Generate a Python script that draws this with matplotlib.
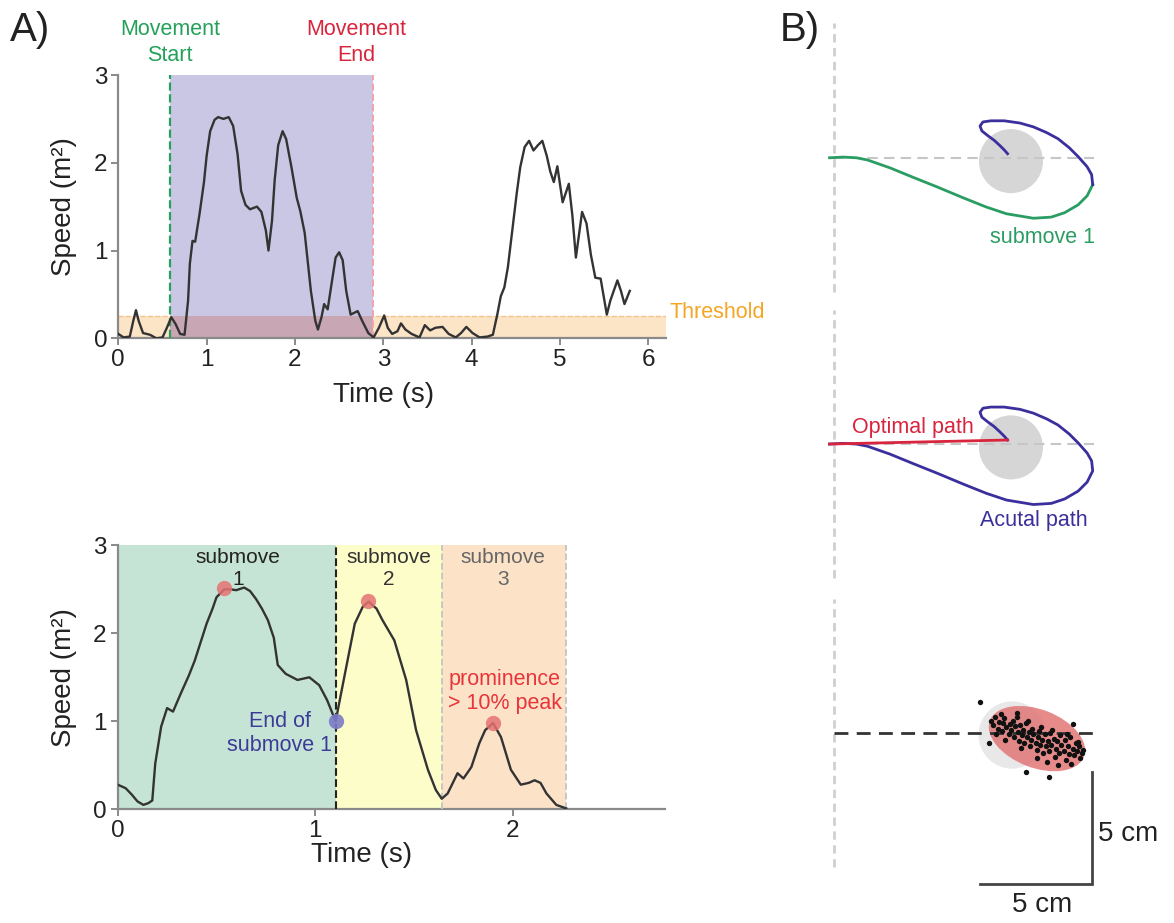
import matplotlib
matplotlib.use("Agg")
import matplotlib.pyplot as plt
from matplotlib.patches import Circle, Ellipse

plt.rcParams['font.family'] = ['Liberation Sans', 'DejaVu Sans']

# ---------------- data: panel A (top) ----------------
top_t = [0.0, 0.06, 0.13, 0.17, 0.2, 0.23, 0.28, 0.36, 0.43, 0.5, 0.55, 0.6, 0.65, 0.7, 0.75,
         0.79, 0.81, 0.84, 0.87, 0.92, 0.97, 1.0, 1.04, 1.09, 1.13, 1.19, 1.25, 1.3, 1.35, 1.39,
         1.44, 1.49, 1.57, 1.62, 1.67, 1.7, 1.74, 1.77, 1.81, 1.86, 1.9, 1.96, 2.02, 2.06, 2.11,
         2.18, 2.23, 2.26, 2.3, 2.33, 2.37, 2.42, 2.46, 2.5, 2.54, 2.58, 2.63, 2.67, 2.71, 2.76,
         2.83, 2.89, 2.95, 3.01, 3.05, 3.1, 3.16, 3.2, 3.25, 3.32, 3.41, 3.47, 3.53, 3.59, 3.67,
         3.74, 3.82, 3.88, 3.94, 4.01, 4.09, 4.18, 4.24, 4.29, 4.33, 4.37, 4.41, 4.46, 4.51, 4.55,
         4.6, 4.65, 4.7, 4.75, 4.8, 4.85, 4.89, 4.93, 4.97, 5.03, 5.1, 5.14, 5.18, 5.25, 5.3,
         5.35, 5.4, 5.46, 5.53, 5.57, 5.65, 5.69, 5.73, 5.79]
top_v = [0.05, 0.01, 0.02, 0.2, 0.32, 0.2, 0.06, 0.04, 0.0, 0.01, 0.12, 0.24, 0.16, 0.05, 0.04,
         0.43, 0.85, 1.11, 1.1, 1.42, 1.78, 2.08, 2.36, 2.49, 2.52, 2.5, 2.52, 2.42, 2.1, 1.68,
         1.52, 1.47, 1.5, 1.44, 1.23, 1.0, 1.34, 1.8, 2.2, 2.36, 2.27, 1.95, 1.6, 1.45, 1.2,
         0.54, 0.2, 0.1, 0.24, 0.39, 0.33, 0.66, 0.92, 0.98, 0.89, 0.54, 0.27, 0.29, 0.31, 0.2,
         0.06, 0.01, 0.12, 0.26, 0.12, 0.05, 0.08, 0.17, 0.1, 0.05, 0.01, 0.15, 0.09, 0.12, 0.13,
         0.05, 0.01, 0.06, 0.13, 0.06, 0.01, 0.02, 0.04, 0.27, 0.48, 0.58, 0.81, 1.23, 1.65, 1.95,
         2.18, 2.25, 2.14, 2.2, 2.25, 2.08, 1.9, 1.78, 1.96, 1.55, 1.76, 1.4, 0.92, 1.44, 1.31,
         0.95, 0.69, 0.68, 0.27, 0.43, 0.66, 0.54, 0.39, 0.54]
threshold = 0.25
move_start = 0.585
move_end = 2.885

# ---------------- data: panel A (bottom) ----------------
bot_t = [0.0, 0.04, 0.07, 0.1, 0.13, 0.155, 0.175, 0.19, 0.22, 0.25, 0.28, 0.32, 0.36, 0.39,
         0.42, 0.45, 0.48, 0.5, 0.54, 0.57, 0.6, 0.64, 0.67, 0.7, 0.73, 0.76, 0.79, 0.81, 0.85,
         0.91, 0.97, 1.02, 1.06, 1.103, 1.15, 1.2, 1.24, 1.27, 1.31, 1.34, 1.4, 1.46, 1.51, 1.57,
         1.61, 1.64, 1.67, 1.72, 1.75, 1.79, 1.83, 1.86, 1.9, 1.94, 1.99, 2.04, 2.08, 2.11, 2.14,
         2.17, 2.22, 2.27]
bot_v = [0.28, 0.24, 0.17, 0.09, 0.05, 0.07, 0.1, 0.52, 0.94, 1.15, 1.11, 1.32, 1.52, 1.69,
         1.9, 2.11, 2.28, 2.41, 2.5, 2.5, 2.49, 2.52, 2.48, 2.39, 2.28, 2.15, 1.95, 1.64, 1.54,
         1.47, 1.5, 1.41, 1.24, 1.0, 1.54, 2.11, 2.3, 2.36, 2.28, 2.15, 1.92, 1.47, 0.9, 0.45,
         0.22, 0.12, 0.18, 0.41, 0.35, 0.48, 0.75, 0.9, 0.98, 0.82, 0.45, 0.28, 0.3, 0.33, 0.3,
         0.18, 0.05, 0.01]
submove_bounds = [0.0, 1.103, 1.64, 2.27]
submove_labels = ["submove\n1", "submove\n2", "submove\n3"]
submove_label_x = [0.61, 1.37, 1.95]
peak_t = [0.54, 1.266, 1.9]
peak_v = [2.52, 2.37, 0.98]
end1_t = [1.103]
end1_v = [1.0]

# ---------------- data: panel B (cm, relative to each row baseline) ----------------
row_base = [25.68, 12.9, 0.0]
path_x = [-0.2, 0.4, 1.0, 1.5, 2.5, 3.5, 4.6, 5.8, 6.8, 7.7, 8.9, 9.7, 10.3, 10.9, 11.3, 11.55,
          11.5, 11.3, 10.9, 10.5, 10.0, 9.5, 8.9, 8.3, 7.6, 7.0, 6.65, 6.52, 6.6, 6.85, 7.15,
          7.4, 7.6, 7.75]
path_y = [0.0, 0.03, 0.0, -0.1, -0.45, -0.86, -1.3, -1.8, -2.2, -2.5, -2.7, -2.65, -2.45,
          -2.1, -1.7, -1.2, -0.75, -0.4, 0.05, 0.45, 0.85, 1.12, 1.38, 1.55, 1.65, 1.65, 1.6,
          1.42, 1.2, 1.0, 0.78, 0.55, 0.35, 0.18]
submove1_end_idx = 15
optimal_x = [-0.2, 7.75]
optimal_y = [0.0, 0.18]
target_xy = (7.9, -0.15)
target_r = 1.43
end_x = [6.52, 8.17, 10.67, 6.92, 8.57, 9.6, 11.07, 10.89,
         7.0, 7.1, 7.2, 7.3, 7.35, 7.5, 7.55, 7.6, 7.7, 7.8, 7.85, 7.9, 8.0, 8.05, 8.1, 8.2,
         8.25, 8.3, 8.4, 8.45, 8.5, 8.55, 8.6, 8.7, 8.75, 8.8, 8.85, 8.9, 9.0, 9.05, 9.1, 9.15,
         9.2, 9.3, 9.35, 9.4, 9.45, 9.55, 9.6, 9.65, 9.7, 9.8, 9.85, 9.9, 9.95, 10.05, 10.1,
         10.15, 10.25, 10.3, 10.35, 10.45, 10.5, 10.55, 10.65, 10.7, 10.8, 10.85, 10.95, 11.0,
         11.1, 7.45, 8.15, 8.65, 9.25, 9.75, 10.4, 7.25, 8.35, 9.05, 9.5, 10.0, 10.6, 7.65]
end_y = [1.38, 0.89, 0.4, -0.45, -1.74, -1.96, -0.89, -0.4,
         0.55, 0.35, 0.7, 0.2, 0.5, 0.1, 0.45, 0.65, 0.25, -0.05, 0.4, 0.15, 0.55, -0.2, 0.3,
         0.05, -0.35, 0.35, -0.1, 0.15, -0.45, 0.45, -0.2, 0.05, -0.6, -0.3, 0.2, -0.05, -0.45,
         -0.75, -0.2, 0.1, -0.55, -0.3, -0.9, -0.05, -0.6, -0.35, -0.8, 0.0, -0.55, -0.25, -1.05,
         -0.7, -0.35, -0.9, -0.1, -0.55, -0.8, -0.3, -1.2, -0.6, -0.95, -0.2, -0.7, -1.0, -0.45,
         -0.8, -0.6, -1.1, -0.75, 0.85, 0.7, 0.55, 0.25, 0.15, -0.05, -0.05, -0.65, -1.1, -1.3,
         -1.45, -1.4, -0.3]
cloud_start_xy = (7.95, -0.09)
cloud_start_r = 1.5
cloud_end_xy = (9.06, -0.25)
cloud_end_w, cloud_end_h, cloud_end_ang = 4.5, 2.6, -21
scale_len = 5.0
scale_corner = (11.5, -6.75)

# ---------------- figure ----------------
W, H = 1174, 923
fig = plt.figure(figsize=(W / 100, H / 100), dpi=100)


def px_axes(left, top, right, bottom):
    return fig.add_axes([left / W, 1 - bottom / H, (right - left) / W, (bottom - top) / H])


AX_GRAY = '#8a8a8a'
CURVE = '#333333'


def style_axes(ax):
    for s in ('top', 'right'):
        ax.spines[s].set_visible(False)
    for s in ('left', 'bottom'):
        ax.spines[s].set_color(AX_GRAY)
        ax.spines[s].set_linewidth(1.6)
    ax.tick_params(direction='out', length=5, width=1.4, color=AX_GRAY,
                   labelsize=17.5, labelcolor='#222222', pad=3)
    ax.set_yticks([0, 1, 2, 3])


# ---- top left ----
ax1 = px_axes(118.3, 75, 666, 338.3)
ax1.set_xlim(0, 6.2)
ax1.set_ylim(0, 3)
style_axes(ax1)
ax1.set_xticks(range(0, 7))
ax1.fill_between([0, 6.2], 0, threshold, color='#fce4c7', lw=0, zorder=1)
ax1.plot([0, 6.2], [threshold, threshold], ls='--', color='#f3c48c', lw=1, zorder=1.5)
ax1.fill_between([move_start, move_end], threshold, 3, color='#c9c7e4', lw=0, zorder=2)
ax1.fill_between([move_start, move_end], 0, threshold, color='#c8a6b4', lw=0, zorder=2)
ax1.plot([move_start, move_start], [0, 3], ls='--', color='#27a05c', lw=1.6, zorder=3)
ax1.plot([move_end, move_end], [0, 3], ls='--', color='#f2a3ab', lw=1.4, zorder=3)
ax1.plot(top_t, top_v, color=CURVE, lw=1.7, zorder=4, solid_joinstyle='round')
ax1.text(move_start, 3.1, "Movement\nStart", color='#25a05a', ha='center', va='bottom',
         fontsize=15.5, linespacing=1.3, clip_on=False)
ax1.text(2.69, 3.1, "Movement\nEnd", color='#d9243d', ha='center', va='bottom',
         fontsize=15.5, linespacing=1.3, clip_on=False)
ax1.text(6.24, 0.29, "Threshold", color='#f5a524', ha='left', va='center', fontsize=15.5,
         clip_on=False)
ax1.set_xlabel("Time (s)", fontsize=20, color='#222222')
ax1.set_ylabel("Speed (m²)", fontsize=20, color='#222222')
ax1.xaxis.set_label_coords(0.485, -0.165)
ax1.yaxis.set_label_coords(-0.075, 0.5)

# ---- bottom left ----
ax2 = px_axes(117.7, 545.3, 665, 809.3)
ax2.set_xlim(0, 2.77)
ax2.set_ylim(0, 3)
style_axes(ax2)
ax2.set_xticks([0, 1, 2])
region_colors = ['#c6e4d5', '#fdfdc9', '#fce3c8']
for i, c in enumerate(region_colors):
    ax2.fill_between([submove_bounds[i], submove_bounds[i + 1]], 0, 3, color=c, lw=0, zorder=1)
ax2.plot([submove_bounds[1]] * 2, [0, 3], ls='--', color='#222222', lw=1.5, zorder=3)
for b in submove_bounds[2:]:
    ax2.plot([b, b], [0, 3], ls='--', color='#c4c4c4', lw=1.3, zorder=3)
ax2.plot(bot_t, bot_v, color=CURVE, lw=1.7, zorder=4, solid_joinstyle='round')
label_colors = ['#222222', '#333333', '#666666']
for lx, lt, lc in zip(submove_label_x, submove_labels, label_colors):
    ax2.text(lx, 2.74, lt, ha='center', va='center', fontsize=15, color=lc,
             linespacing=1.2, zorder=5)
ax2.plot(peak_t, peak_v, 'o', color='#e57272', alpha=0.85, markersize=11, mec='none', zorder=5)
ax2.plot(end1_t, end1_v, 'o', color='#7b7bc6', alpha=0.9, markersize=11, mec='none', zorder=5)
ax2.text(0.82, 0.86, "End of\nsubmove 1", ha='center', va='center', fontsize=15.5,
         color='#3c3c98', linespacing=1.2, zorder=5)
ax2.text(1.96, 1.335, "prominence\n> 10% peak", ha='center', va='center', fontsize=15.5,
         color='#e8343a', linespacing=1.2, zorder=5)
ax2.set_xlabel("Time (s)", fontsize=20, color='#222222')
ax2.set_ylabel("Speed (m²)", fontsize=20, color='#222222')
ax2.xaxis.set_label_coords(0.446, -0.125)
ax2.yaxis.set_label_coords(-0.075, 0.5)

# ---- panel B ----
PXCM = 22.4
bx0, by0 = 834, 733
axB = px_axes(780, 0, 1174, 923)
axB.set_xlim((780 - bx0) / PXCM, (1174 - bx0) / PXCM)
axB.set_ylim((by0 - 923) / PXCM, (by0 - 0) / PXCM)
axB.axis('off')

for k, base in enumerate(row_base):
    axB.plot([0, 0], [base - 6, base + 6], ls='--', color='#cfcfcf', lw=2, dashes=(3, 2),
             zorder=1)

# row 1
b = row_base[0]
axB.add_patch(Circle((target_xy[0], b + target_xy[1]), target_r, color='#d6d6d6', lw=0, zorder=1))
axB.plot([0, 11.6], [b, b], ls='--', color='#c6c6c6', lw=1.5, dashes=(5, 3), zorder=2)
axB.plot(path_x[:submove1_end_idx + 1], [b + y for y in path_y[:submove1_end_idx + 1]],
         color='#2a9d63', lw=2, zorder=3, solid_joinstyle='round')
axB.plot(path_x[submove1_end_idx:], [b + y for y in path_y[submove1_end_idx:]],
         color='#3a2f9c', lw=2, zorder=3, solid_joinstyle='round')
axB.text(9.3, b - 3.54, "submove 1", color='#2a9d63', ha='center', va='center', fontsize=15.5)

# row 2
b = row_base[1]
axB.add_patch(Circle((target_xy[0], b + target_xy[1]), target_r, color='#d6d6d6', lw=0, zorder=1))
axB.plot([0, 11.6], [b, b], ls='--', color='#c6c6c6', lw=1.5, dashes=(5, 3), zorder=2)
axB.plot(path_x, [b + y for y in path_y], color='#3a2f9c', lw=2, zorder=3,
         solid_joinstyle='round')
axB.plot(optimal_x, [b + y for y in optimal_y], color='#d9243d', lw=2, zorder=4)
axB.text(0.8, b + 0.76, "Optimal path", color='#d9243d', ha='left', va='center', fontsize=15.5)
axB.text(8.9, b - 3.4, "Acutal path", color='#3a2f9c', ha='center', va='center', fontsize=15.5)

# row 3
b = row_base[2]
axB.add_patch(Circle((cloud_start_xy[0], b + cloud_start_xy[1]), cloud_start_r,
                     color='#e8e8e8', lw=0, zorder=1))
axB.add_patch(Ellipse((cloud_end_xy[0], b + cloud_end_xy[1]), cloud_end_w, cloud_end_h,
                      angle=cloud_end_ang, color='#e27676', alpha=0.85, lw=0, zorder=2))
axB.plot([0, 11.75], [b, b], color='#333333', lw=2, dashes=(5, 3), zorder=3)
axB.scatter(end_x, [b + y for y in end_y], s=15, color='#111111', zorder=4, lw=0)

# scale bar
cx, cy = scale_corner
axB.plot([cx - scale_len, cx, cx], [cy, cy, cy + scale_len], color='#444444', lw=2,
         solid_joinstyle='miter')
axB.text(cx - scale_len / 2 + 0.3, cy - 0.35, "5 cm", ha='center', va='top', fontsize=20,
         color='#222222')
axB.text(cx + 0.3, cy + scale_len / 2 - 0.25, "5 cm", ha='left', va='center', fontsize=20,
         color='#222222')

# panel letters
fig.text(10 / W, 1 - 30 / H, "A)", fontsize=29, va='center', ha='left', color='#222222')
fig.text(780 / W, 1 - 30 / H, "B)", fontsize=29, va='center', ha='left', color='#222222')

fig.savefig("out.png", dpi=100)
